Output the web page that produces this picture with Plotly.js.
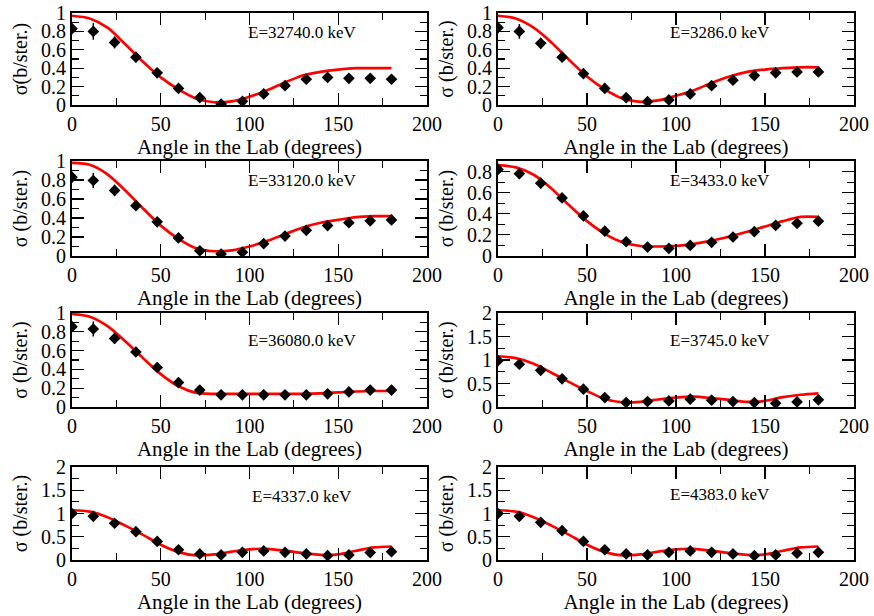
<!DOCTYPE html>
<html>
<head>
<meta charset="utf-8">
<script src="https://cdn.plot.ly/plotly-3.0.1.min.js"></script>
<style>html,body{margin:0;padding:0;background:#fff;}#chart{width:874px;height:616px;}</style>
</head>
<body>
<div id="chart"></div>
<script>
// ---- data ----
const angles = [0,12,24,36,48,60,72,84,96,108,120,132,144,156,168,180];
const fitAngles = [0,10,20,30,40,50,60,70,80,90,100,110,120,130,140,150,160,170,180];
const energyLabels = ["E=32740.0 keV","E=3286.0 keV","E=33120.0 keV","E=3433.0 keV",
                      "E=36080.0 keV","E=3745.0 keV","E=4337.0 keV","E=4383.0 keV"];
const yTitles = ["σ(b/ster.)","σ (b/ster.)","σ (b/ster.)","σ (b/ster.)",
                 "σ (b/ster.)","σ (b/ster.)","σ (b/ster.)","σ (b/ster.)"];
const xTitle = "Angle in the Lab (degrees)";

const sigma1 = [0.83,0.80,0.68,0.52,0.35,0.18,0.08,0.01,0.04,0.12,0.21,0.28,0.30,0.29,0.29,0.28];
const err1   = [0.03,0.09,0.065,0.055,0.03,0.025,0.02,0.015,0.015,0.02,0.02,0.02,0.025,0.025,0.02,0.02];
const fit1   = [0.97,0.94,0.84,0.66,0.47,0.30,0.17,0.07,0.03,0.04,0.09,0.16,0.245,0.32,0.36,0.385,0.40,0.40,0.40];

const sigma2 = [0.84,0.80,0.67,0.52,0.34,0.18,0.08,0.036,0.055,0.12,0.21,0.27,0.32,0.35,0.36,0.36];
const err2   = [0.03,0.08,0.06,0.05,0.03,0.02,0.02,0.015,0.015,0.02,0.02,0.02,0.02,0.02,0.02,0.02];
const fit2   = [0.97,0.94,0.84,0.68,0.49,0.31,0.17,0.07,0.035,0.05,0.10,0.16,0.24,0.31,0.36,0.385,0.40,0.41,0.41];

const sigma3 = [0.83,0.795,0.69,0.53,0.36,0.19,0.055,0.02,0.04,0.13,0.21,0.27,0.32,0.35,0.37,0.38];
const err3   = [0.03,0.08,0.06,0.05,0.03,0.02,0.02,0.015,0.015,0.02,0.02,0.02,0.02,0.02,0.02,0.02];
const fit3   = [0.98,0.96,0.86,0.69,0.50,0.32,0.18,0.08,0.05,0.06,0.10,0.16,0.23,0.30,0.35,0.38,0.41,0.42,0.42];

const sigma4 = [0.82,0.78,0.69,0.55,0.38,0.235,0.135,0.085,0.072,0.10,0.13,0.18,0.23,0.29,0.31,0.33];
const err4   = [0.03,0.05,0.05,0.04,0.03,0.02,0.02,0.015,0.015,0.015,0.015,0.015,0.02,0.02,0.02,0.02];
const fit4   = [0.86,0.84,0.77,0.64,0.48,0.33,0.21,0.13,0.095,0.09,0.095,0.115,0.145,0.185,0.23,0.28,0.33,0.37,0.37];

const sigma5 = [0.855,0.83,0.73,0.585,0.42,0.26,0.18,0.13,0.13,0.13,0.13,0.13,0.14,0.16,0.18,0.18];
const err5   = [0.03,0.08,0.06,0.05,0.03,0.02,0.02,0.015,0.015,0.015,0.015,0.015,0.02,0.02,0.02,0.02];
const fit5   = [0.99,0.96,0.86,0.70,0.52,0.35,0.22,0.15,0.14,0.14,0.14,0.14,0.14,0.14,0.145,0.155,0.165,0.17,0.17];

const sigma6 = [0.985,0.91,0.78,0.60,0.38,0.20,0.094,0.116,0.13,0.167,0.145,0.116,0.094,0.08,0.109,0.152];
const err6   = [0.04,0.06,0.06,0.05,0.03,0.03,0.03,0.03,0.03,0.03,0.03,0.03,0.03,0.03,0.03,0.03];
const fit6   = [1.08,1.04,0.92,0.73,0.53,0.34,0.17,0.10,0.11,0.16,0.20,0.22,0.19,0.15,0.11,0.13,0.21,0.26,0.29];

const sigma7 = [1.0,0.94,0.79,0.61,0.40,0.22,0.13,0.11,0.166,0.195,0.166,0.13,0.094,0.11,0.16,0.18];
const err7   = [0.04,0.06,0.06,0.05,0.03,0.03,0.03,0.03,0.03,0.03,0.03,0.03,0.03,0.03,0.03,0.03];
const fit7   = [1.07,1.04,0.92,0.74,0.54,0.33,0.17,0.10,0.12,0.18,0.23,0.24,0.20,0.15,0.11,0.12,0.20,0.27,0.29];

const sigma8 = [1.0,0.94,0.81,0.63,0.40,0.22,0.13,0.11,0.166,0.195,0.166,0.13,0.094,0.11,0.145,0.166];
const err8   = [0.04,0.06,0.06,0.05,0.03,0.03,0.03,0.03,0.03,0.03,0.03,0.03,0.03,0.03,0.03,0.03];
const fit8   = [1.07,1.04,0.92,0.74,0.54,0.33,0.17,0.10,0.12,0.18,0.23,0.24,0.20,0.15,0.11,0.12,0.20,0.27,0.29];

const sigmas = [sigma1,sigma2,sigma3,sigma4,sigma5,sigma6,sigma7,sigma8];
const errs   = [err1,err2,err3,err4,err5,err6,err7,err8];
const fits   = [fit1,fit2,fit3,fit4,fit5,fit6,fit7,fit8];

// ---- layout geometry (pixels) ----
const W = 874, H = 616;
const colX = [[72,427],[498,854]];
const rowY = [[13,105],[161,256],[313,407],[467,560]];
const yRanges = [[0,1],[0,1],[0,1],[0,0.9],[0,1],[0,2],[0,2],[0,2]];
const yDticks = [0.2,0.2,0.2,0.2,0.2,0.5,0.5,0.5];
const annPos = [[0.648,0.79],[0.624,0.79],[0.648,0.80],[0.624,0.80],[0.648,0.71],[0.624,0.71],[0.648,0.68],[0.624,0.70]];

const FONT = "Liberation Serif";
const traces = [];
const layout = {
  width: W, height: H,
  margin: {l:0,r:0,t:0,b:0, autoexpand: false},
  paper_bgcolor: "#fff", plot_bgcolor: "#fff",
  showlegend: false,
  font: {family: FONT, color: "#000"},
  annotations: []
};

for (let i = 0; i < 8; i++) {
  const col = i % 2, row = Math.floor(i / 2);
  const n = i + 1;
  const xa = n === 1 ? "x" : "x" + n;
  const ya = n === 1 ? "y" : "y" + n;
  const xk = n === 1 ? "xaxis" : "xaxis" + n;
  const yk = n === 1 ? "yaxis" : "yaxis" + n;

  traces.push({
    x: fitAngles, y: fits[i], xaxis: xa, yaxis: ya,
    type: "scatter", mode: "lines",
    line: {color: "#ff0000", width: 2.7, shape: "spline", smoothing: 0.8},
    hoverinfo: "skip"
  });
  traces.push({
    x: angles, y: sigmas[i], xaxis: xa, yaxis: ya,
    type: "scatter", mode: "markers",
    marker: {symbol: "diamond", size: 9, color: "#000"},
    error_y: {type: "data", array: errs[i], visible: true, color: "#000", thickness: 1.5, width: 0}
  });

  const common = {
    showline: true, linewidth: 2, linecolor: "#000", mirror: "allticks",
    ticks: "inside", ticklen: 12, tickwidth: 1.2, tickcolor: "#000",
    showgrid: false, zeroline: false, fixedrange: true, automargin: true,
    tickfont: {family: FONT, size: 20, color: "#000"},
    minor: {ticks: "inside", ticklen: 7, tickwidth: 1.2, tickcolor: "#000", showgrid: false}
  };

  layout[xk] = Object.assign({}, common, {
    domain: [colX[col][0] / W, colX[col][1] / W],
    anchor: ya, range: [0, 200], dtick: 50, tick0: 0,
    minor: Object.assign({}, common.minor, {dtick: 25}),
    title: {text: xTitle, standoff: 0, font: {family: FONT, size: 21, color: "#000"}}
  });
  layout[yk] = Object.assign({}, common, {
    domain: [1 - rowY[row][1] / H, 1 - rowY[row][0] / H],
    anchor: xa, range: yRanges[i], dtick: yDticks[i], tick0: 0,
    minor: Object.assign({}, common.minor, {dtick: yDticks[i] / 2}),
    title: {text: yTitles[i], standoff: 8, font: {family: FONT, size: 20, color: "#000"}}
  });

  layout.annotations.push({
    xref: xa + " domain", yref: ya + " domain",
    x: annPos[i][0], y: annPos[i][1], xanchor: "center", yanchor: "middle",
    text: energyLabels[i], showarrow: false,
    font: {family: FONT, size: 17, color: "#000"}
  });
}

Plotly.newPlot("chart", traces, layout, {staticPlot: true, displayModeBar: false});
</script>
</body>
</html>
